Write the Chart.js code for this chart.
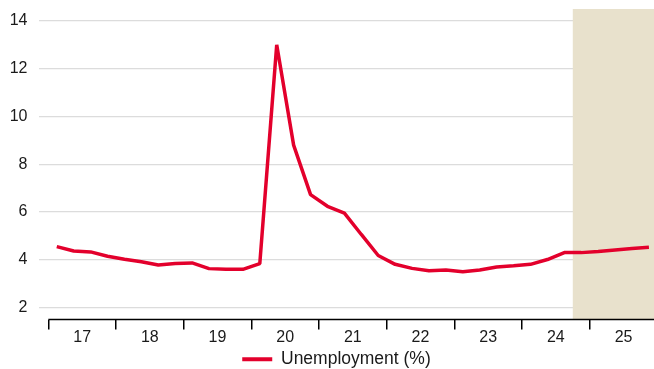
<!DOCTYPE html>
<html>
<head>
<meta charset="utf-8">
<script src="https://cdn.jsdelivr.net/npm/chart.js@4/dist/chart.umd.min.js"></script>
<style>
html,body{margin:0;padding:0;background:#fff;}
#wrap{width:654px;height:369px;}
</style>
</head>
<body>
<div id="wrap"><canvas id="c" width="654" height="369"></canvas></div>
<script>
// ---- data ----
const quarters = [
  '2017Q1','2017Q2','2017Q3','2017Q4',
  '2018Q1','2018Q2','2018Q3','2018Q4',
  '2019Q1','2019Q2','2019Q3','2019Q4',
  '2020Q1','2020Q2','2020Q3','2020Q4',
  '2021Q1','2021Q2','2021Q3','2021Q4',
  '2022Q1','2022Q2','2022Q3','2022Q4',
  '2023Q1','2023Q2','2023Q3','2023Q4',
  '2024Q1','2024Q2','2024Q3','2024Q4',
  '2025Q1','2025Q2','2025Q3','2025Q4'
];
const unemployment = [
  4.55, 4.37, 4.33, 4.15,
  4.02, 3.92, 3.78, 3.84,
  3.87, 3.63, 3.60, 3.60,
  3.84, 13.0, 8.80, 6.73,
  6.24, 5.95, 5.06, 4.18,
  3.81, 3.64, 3.54, 3.57,
  3.50, 3.57, 3.70, 3.75,
  3.81, 4.01, 4.30, 4.30,
  4.35, 4.41, 4.47, 4.52
];
const years = [2017, 2018, 2019, 2020, 2021, 2022, 2023, 2024, 2025];
const yTicks = [2, 4, 6, 8, 10, 12, 14];
const seriesLabel = 'Unemployment (%)';
const forecastStartQuarter = '2024Q4';

// ---- helpers ----
const quarterStart = q => parseInt(q.slice(0, 4), 10) + (parseInt(q.slice(5), 10) - 1) / 4;
const quarterMid = q => quarterStart(q) + 0.125;
const points = quarters.map((q, i) => ({x: quarterMid(q), y: unemployment[i]}));

const RED = '#E3002C';
const SHADE = '#E8E1CC';
const TEXT = '#1a1a1a';
const FONT = 'Liberation Sans, Arial, Helvetica, sans-serif';

const decorPlugin = {
  id: 'decor',
  afterLayout(chart) {
    if (chart.legend) { chart.legend.left += 9.5; chart.legend.right += 9.5; }
  },
  beforeDatasetsDraw(chart) {
    const {ctx, chartArea, scales: {x}} = chart;
    const x0 = x.getPixelForValue(quarterStart(forecastStartQuarter));
    ctx.save();
    ctx.fillStyle = SHADE;
    ctx.fillRect(x0, chartArea.top, chartArea.right - x0, chartArea.bottom - chartArea.top);
    ctx.strokeStyle = '#000';
    ctx.lineWidth = 1.5;
    ctx.beginPath();
    ctx.moveTo(x.getPixelForValue(years[0]), chartArea.bottom);
    ctx.lineTo(chartArea.right, chartArea.bottom);
    ctx.stroke();
    ctx.restore();
  }
};

new Chart(document.getElementById('c'), {
  type: 'line',
  data: {
    datasets: [{
      label: seriesLabel,
      data: points,
      borderColor: RED,
      backgroundColor: RED,
      borderWidth: 3.5,
      pointRadius: 0,
      tension: 0,
      borderJoinStyle: 'bevel',
      fill: false
    }]
  },
  options: {
    responsive: false,
    animation: false,
    layout: {padding: {top: 9, right: 0, left: 0, bottom: -9}},
    plugins: {
      tooltip: {enabled: false},
      legend: {
        position: 'bottom',
        labels: {
          color: TEXT,
          font: {family: FONT, size: 17.5},
          boxWidth: 30,
          boxHeight: 4,
          padding: 0,
          generateLabels: chart => chart.data.datasets.map((ds, i) => ({
            text: ds.label, fillStyle: RED, strokeStyle: RED, lineWidth: 0,
            hidden: false, datasetIndex: i, fontColor: TEXT
          }))
        }
      }
    },
    scales: {
      x: {
        type: 'linear',
        min: 2016.855,
        max: 2025.95,
        afterBuildTicks: s => {
          const t = [];
          years.forEach(y => { t.push({value: y}); t.push({value: y + 0.5}); });
          s.ticks = t;
        },
        afterFit: s => { s.height = 31; s.paddingLeft = 0; s.paddingRight = 0; },
        border: {display: false},
        grid: {
          display: true,
          drawOnChartArea: false,
          drawTicks: true,
          tickLength: 10,
          lineWidth: 1.5,
          color: c => (c.tick && Number.isInteger(c.tick.value)) ? '#000' : 'rgba(0,0,0,0)'
        },
        ticks: {
          autoSkip: false,
          maxRotation: 0,
          padding: -2,
          color: TEXT,
          font: {family: FONT, size: 16},
          callback: v => Number.isInteger(v) ? '' : String(Math.floor(v)).slice(2)
        }
      },
      y: {
        min: 1.5,
        max: 14.5,
        afterBuildTicks: s => { s.ticks = yTicks.map(v => ({value: v})); },
        afterFit: s => { s.width = 38.5; s.paddingTop = 0; s.paddingBottom = 0; },
        border: {display: false},
        grid: {color: '#dcdcdc', lineWidth: 1.2, drawTicks: false},
        ticks: {
          padding: 11,
          color: TEXT,
          font: {family: FONT, size: 16}
        }
      }
    }
  },
  plugins: [decorPlugin]
});
</script>
</body>
</html>
